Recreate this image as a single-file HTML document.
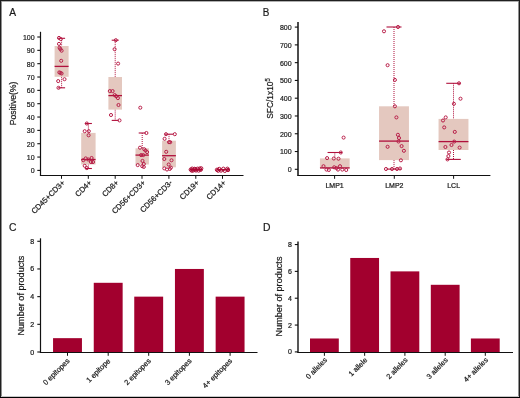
<!DOCTYPE html>
<html><head><meta charset="utf-8"><style>
html,body{margin:0;padding:0;background:#fff;}
body{width:520px;height:398px;position:relative;overflow:hidden;font-family:"Liberation Sans", sans-serif;}
.b{position:absolute;}
text{stroke:#1a1a1a;stroke-width:0.22px;}
</style></head><body>
<svg width="520" height="398" viewBox="0 0 520 398" style="position:absolute;left:0;top:0;will-change:transform" font-family='"Liberation Sans", sans-serif' fill="#1a1a1a">
<text transform="translate(9.30 15.90) scale(0.93 1)" font-size="11" text-anchor="start" >A</text>
<text transform="translate(262.70 15.90) scale(0.9 1)" font-size="11" text-anchor="start" >B</text>
<text transform="translate(9.00 231.00) scale(0.9 1)" font-size="11.5" text-anchor="start" >C</text>
<text transform="translate(263.00 231.00) scale(0.9 1)" font-size="11.5" text-anchor="start" >D</text>
<line x1="40.50" y1="31.80" x2="40.50" y2="175.50" stroke="#111" stroke-width="1.2" />
<line x1="37.30" y1="170.40" x2="40.50" y2="170.40" stroke="#111" stroke-width="1.1" />
<text transform="translate(34.60 173.25) scale(0.88 1)" font-size="8" text-anchor="end" >0</text>
<line x1="37.30" y1="157.06" x2="40.50" y2="157.06" stroke="#111" stroke-width="1.1" />
<text transform="translate(34.60 159.91) scale(0.88 1)" font-size="8" text-anchor="end" >10</text>
<line x1="37.30" y1="143.72" x2="40.50" y2="143.72" stroke="#111" stroke-width="1.1" />
<text transform="translate(34.60 146.57) scale(0.88 1)" font-size="8" text-anchor="end" >20</text>
<line x1="37.30" y1="130.38" x2="40.50" y2="130.38" stroke="#111" stroke-width="1.1" />
<text transform="translate(34.60 133.23) scale(0.88 1)" font-size="8" text-anchor="end" >30</text>
<line x1="37.30" y1="117.04" x2="40.50" y2="117.04" stroke="#111" stroke-width="1.1" />
<text transform="translate(34.60 119.89) scale(0.88 1)" font-size="8" text-anchor="end" >40</text>
<line x1="37.30" y1="103.70" x2="40.50" y2="103.70" stroke="#111" stroke-width="1.1" />
<text transform="translate(34.60 106.55) scale(0.88 1)" font-size="8" text-anchor="end" >50</text>
<line x1="37.30" y1="90.36" x2="40.50" y2="90.36" stroke="#111" stroke-width="1.1" />
<text transform="translate(34.60 93.21) scale(0.88 1)" font-size="8" text-anchor="end" >60</text>
<line x1="37.30" y1="77.02" x2="40.50" y2="77.02" stroke="#111" stroke-width="1.1" />
<text transform="translate(34.60 79.87) scale(0.88 1)" font-size="8" text-anchor="end" >70</text>
<line x1="37.30" y1="63.68" x2="40.50" y2="63.68" stroke="#111" stroke-width="1.1" />
<text transform="translate(34.60 66.53) scale(0.88 1)" font-size="8" text-anchor="end" >80</text>
<line x1="37.30" y1="50.34" x2="40.50" y2="50.34" stroke="#111" stroke-width="1.1" />
<text transform="translate(34.60 53.19) scale(0.88 1)" font-size="8" text-anchor="end" >90</text>
<line x1="37.30" y1="37.00" x2="40.50" y2="37.00" stroke="#111" stroke-width="1.1" />
<text transform="translate(34.60 39.85) scale(0.88 1)" font-size="8" text-anchor="end" >100</text>
<line x1="39.90" y1="175.50" x2="243.50" y2="175.50" stroke="#111" stroke-width="1.2" />
<line x1="61.50" y1="175.50" x2="61.50" y2="178.80" stroke="#111" stroke-width="1.0" />
<line x1="88.30" y1="175.50" x2="88.30" y2="178.80" stroke="#111" stroke-width="1.0" />
<line x1="115.20" y1="175.50" x2="115.20" y2="178.80" stroke="#111" stroke-width="1.0" />
<line x1="142.00" y1="175.50" x2="142.00" y2="178.80" stroke="#111" stroke-width="1.0" />
<line x1="168.90" y1="175.50" x2="168.90" y2="178.80" stroke="#111" stroke-width="1.0" />
<line x1="195.80" y1="175.50" x2="195.80" y2="178.80" stroke="#111" stroke-width="1.0" />
<line x1="222.50" y1="175.50" x2="222.50" y2="178.80" stroke="#111" stroke-width="1.0" />
<text transform="translate(16.30 103.40) rotate(-90) scale(0.96 1)" font-size="9" text-anchor="middle" >Positive(%)</text>
<text transform="translate(65.50 183.20) rotate(-45)" font-size="7.7" text-anchor="end" >CD45+CD3+</text>
<text transform="translate(92.30 183.20) rotate(-45)" font-size="7.7" text-anchor="end" >CD4+</text>
<text transform="translate(119.20 183.20) rotate(-45)" font-size="7.7" text-anchor="end" >CD8+</text>
<text transform="translate(146.00 183.20) rotate(-45)" font-size="7.7" text-anchor="end" >CD56+CD3+</text>
<text transform="translate(172.90 183.20) rotate(-45)" font-size="7.7" text-anchor="end" >CD56+CD3-</text>
<text transform="translate(199.80 183.20) rotate(-45)" font-size="7.7" text-anchor="end" >CD19+</text>
<text transform="translate(226.50 183.20) rotate(-45)" font-size="7.7" text-anchor="end" >CD14+</text>
<line x1="61.60" y1="38.30" x2="61.60" y2="46.00" stroke="#B0103C" stroke-width="1.0" stroke-dasharray="1 1"/>
<line x1="58.10" y1="38.30" x2="65.10" y2="38.30" stroke="#B0103C" stroke-width="1.1" />
<line x1="61.60" y1="76.80" x2="61.60" y2="87.80" stroke="#B0103C" stroke-width="1.0" stroke-dasharray="1 1"/>
<line x1="58.10" y1="87.80" x2="65.10" y2="87.80" stroke="#B0103C" stroke-width="1.1" />
<rect x="54.60" y="46.00" width="14.00" height="30.80" fill="#E4C8BF"/>
<line x1="54.60" y1="66.40" x2="68.60" y2="66.40" stroke="#B0103C" stroke-width="1.3" />
<circle cx="59.00" cy="37.90" r="1.55" fill="none" stroke="#B81E48" stroke-width="1.0"/>
<circle cx="60.80" cy="39.10" r="1.55" fill="none" stroke="#B81E48" stroke-width="1.0"/>
<circle cx="59.00" cy="43.90" r="1.55" fill="none" stroke="#B81E48" stroke-width="1.0"/>
<circle cx="59.60" cy="47.80" r="1.55" fill="none" stroke="#B81E48" stroke-width="1.0"/>
<circle cx="60.40" cy="49.10" r="1.55" fill="none" stroke="#B81E48" stroke-width="1.0"/>
<circle cx="61.60" cy="50.70" r="1.55" fill="none" stroke="#B81E48" stroke-width="1.0"/>
<circle cx="61.20" cy="60.80" r="1.55" fill="none" stroke="#B81E48" stroke-width="1.0"/>
<circle cx="59.30" cy="72.40" r="1.55" fill="none" stroke="#B81E48" stroke-width="1.0"/>
<circle cx="60.50" cy="72.90" r="1.55" fill="none" stroke="#B81E48" stroke-width="1.0"/>
<circle cx="61.60" cy="73.50" r="1.55" fill="none" stroke="#B81E48" stroke-width="1.0"/>
<circle cx="64.50" cy="79.20" r="1.55" fill="none" stroke="#B81E48" stroke-width="1.0"/>
<circle cx="58.20" cy="81.10" r="1.55" fill="none" stroke="#B81E48" stroke-width="1.0"/>
<circle cx="58.50" cy="87.80" r="1.55" fill="none" stroke="#B81E48" stroke-width="1.0"/>
<line x1="88.40" y1="123.50" x2="88.40" y2="132.90" stroke="#B0103C" stroke-width="1.0" stroke-dasharray="1 1"/>
<line x1="84.90" y1="123.50" x2="91.90" y2="123.50" stroke="#B0103C" stroke-width="1.1" />
<line x1="88.40" y1="164.50" x2="88.40" y2="168.50" stroke="#B0103C" stroke-width="1.0" stroke-dasharray="1 1"/>
<line x1="84.90" y1="168.50" x2="91.90" y2="168.50" stroke="#B0103C" stroke-width="1.1" />
<rect x="81.20" y="132.90" width="14.40" height="31.60" fill="#E4C8BF"/>
<line x1="81.20" y1="159.50" x2="95.60" y2="159.50" stroke="#B0103C" stroke-width="1.3" />
<circle cx="86.80" cy="123.50" r="1.55" fill="none" stroke="#B81E48" stroke-width="1.0"/>
<circle cx="84.70" cy="131.20" r="1.55" fill="none" stroke="#B81E48" stroke-width="1.0"/>
<circle cx="88.80" cy="131.20" r="1.55" fill="none" stroke="#B81E48" stroke-width="1.0"/>
<circle cx="88.60" cy="135.30" r="1.55" fill="none" stroke="#B81E48" stroke-width="1.0"/>
<circle cx="83.30" cy="160.20" r="1.55" fill="none" stroke="#B81E48" stroke-width="1.0"/>
<circle cx="85.70" cy="158.40" r="1.55" fill="none" stroke="#B81E48" stroke-width="1.0"/>
<circle cx="91.60" cy="158.00" r="1.55" fill="none" stroke="#B81E48" stroke-width="1.0"/>
<circle cx="93.00" cy="162.00" r="1.55" fill="none" stroke="#B81E48" stroke-width="1.0"/>
<circle cx="91.00" cy="162.00" r="1.55" fill="none" stroke="#B81E48" stroke-width="1.0"/>
<circle cx="88.20" cy="159.50" r="1.55" fill="none" stroke="#B81E48" stroke-width="1.0"/>
<circle cx="84.70" cy="165.80" r="1.55" fill="none" stroke="#B81E48" stroke-width="1.0"/>
<circle cx="86.80" cy="168.10" r="1.55" fill="none" stroke="#B81E48" stroke-width="1.0"/>
<line x1="115.20" y1="40.20" x2="115.20" y2="77.00" stroke="#B0103C" stroke-width="1.0" stroke-dasharray="1 1"/>
<line x1="111.70" y1="40.20" x2="118.70" y2="40.20" stroke="#B0103C" stroke-width="1.1" />
<line x1="115.20" y1="109.60" x2="115.20" y2="120.40" stroke="#B0103C" stroke-width="1.0" stroke-dasharray="1 1"/>
<line x1="111.70" y1="120.40" x2="118.70" y2="120.40" stroke="#B0103C" stroke-width="1.1" />
<rect x="108.40" y="77.00" width="13.60" height="32.60" fill="#E4C8BF"/>
<line x1="108.40" y1="95.60" x2="122.00" y2="95.60" stroke="#B0103C" stroke-width="1.3" />
<circle cx="115.80" cy="40.20" r="1.55" fill="none" stroke="#B81E48" stroke-width="1.0"/>
<circle cx="114.60" cy="49.20" r="1.55" fill="none" stroke="#B81E48" stroke-width="1.0"/>
<circle cx="118.10" cy="63.60" r="1.55" fill="none" stroke="#B81E48" stroke-width="1.0"/>
<circle cx="109.80" cy="91.10" r="1.55" fill="none" stroke="#B81E48" stroke-width="1.0"/>
<circle cx="112.60" cy="91.10" r="1.55" fill="none" stroke="#B81E48" stroke-width="1.0"/>
<circle cx="114.70" cy="95.10" r="1.55" fill="none" stroke="#B81E48" stroke-width="1.0"/>
<circle cx="116.20" cy="96.30" r="1.55" fill="none" stroke="#B81E48" stroke-width="1.0"/>
<circle cx="117.90" cy="98.10" r="1.55" fill="none" stroke="#B81E48" stroke-width="1.0"/>
<circle cx="118.50" cy="105.00" r="1.55" fill="none" stroke="#B81E48" stroke-width="1.0"/>
<circle cx="111.00" cy="115.00" r="1.55" fill="none" stroke="#B81E48" stroke-width="1.0"/>
<circle cx="119.50" cy="120.40" r="1.55" fill="none" stroke="#B81E48" stroke-width="1.0"/>
<line x1="142.20" y1="133.00" x2="142.20" y2="148.30" stroke="#B0103C" stroke-width="1.0" stroke-dasharray="1 1"/>
<line x1="138.70" y1="133.00" x2="145.70" y2="133.00" stroke="#B0103C" stroke-width="1.1" />
<rect x="135.50" y="148.30" width="13.40" height="16.20" fill="#E4C8BF"/>
<line x1="135.50" y1="155.10" x2="148.90" y2="155.10" stroke="#B0103C" stroke-width="1.3" />
<circle cx="140.30" cy="107.70" r="1.55" fill="none" stroke="#B81E48" stroke-width="1.0"/>
<circle cx="146.40" cy="133.00" r="1.55" fill="none" stroke="#B81E48" stroke-width="1.0"/>
<circle cx="140.00" cy="147.70" r="1.55" fill="none" stroke="#B81E48" stroke-width="1.0"/>
<circle cx="144.20" cy="149.20" r="1.55" fill="none" stroke="#B81E48" stroke-width="1.0"/>
<circle cx="145.50" cy="150.50" r="1.55" fill="none" stroke="#B81E48" stroke-width="1.0"/>
<circle cx="147.10" cy="152.10" r="1.55" fill="none" stroke="#B81E48" stroke-width="1.0"/>
<circle cx="141.10" cy="155.10" r="1.55" fill="none" stroke="#B81E48" stroke-width="1.0"/>
<circle cx="143.30" cy="155.10" r="1.55" fill="none" stroke="#B81E48" stroke-width="1.0"/>
<circle cx="142.50" cy="160.90" r="1.55" fill="none" stroke="#B81E48" stroke-width="1.0"/>
<circle cx="143.80" cy="164.00" r="1.55" fill="none" stroke="#B81E48" stroke-width="1.0"/>
<circle cx="137.70" cy="165.10" r="1.55" fill="none" stroke="#B81E48" stroke-width="1.0"/>
<circle cx="142.20" cy="166.20" r="1.55" fill="none" stroke="#B81E48" stroke-width="1.0"/>
<circle cx="143.80" cy="166.90" r="1.55" fill="none" stroke="#B81E48" stroke-width="1.0"/>
<line x1="169.00" y1="134.20" x2="169.00" y2="140.70" stroke="#B0103C" stroke-width="1.0" stroke-dasharray="1 1"/>
<line x1="165.00" y1="134.20" x2="173.00" y2="134.20" stroke="#B0103C" stroke-width="1.1" />
<rect x="162.10" y="140.70" width="13.80" height="26.60" fill="#E4C8BF"/>
<line x1="162.10" y1="155.70" x2="175.90" y2="155.70" stroke="#B0103C" stroke-width="1.3" />
<circle cx="166.00" cy="134.20" r="1.55" fill="none" stroke="#B81E48" stroke-width="1.0"/>
<circle cx="174.80" cy="134.20" r="1.55" fill="none" stroke="#B81E48" stroke-width="1.0"/>
<circle cx="164.60" cy="138.80" r="1.55" fill="none" stroke="#B81E48" stroke-width="1.0"/>
<circle cx="169.00" cy="142.20" r="1.55" fill="none" stroke="#B81E48" stroke-width="1.0"/>
<circle cx="170.20" cy="142.20" r="1.55" fill="none" stroke="#B81E48" stroke-width="1.0"/>
<circle cx="166.20" cy="151.80" r="1.55" fill="none" stroke="#B81E48" stroke-width="1.0"/>
<circle cx="164.30" cy="159.00" r="1.55" fill="none" stroke="#B81E48" stroke-width="1.0"/>
<circle cx="171.50" cy="160.30" r="1.55" fill="none" stroke="#B81E48" stroke-width="1.0"/>
<circle cx="168.70" cy="164.50" r="1.55" fill="none" stroke="#B81E48" stroke-width="1.0"/>
<circle cx="164.30" cy="168.40" r="1.55" fill="none" stroke="#B81E48" stroke-width="1.0"/>
<circle cx="167.00" cy="169.50" r="1.55" fill="none" stroke="#B81E48" stroke-width="1.0"/>
<circle cx="169.80" cy="168.90" r="1.55" fill="none" stroke="#B81E48" stroke-width="1.0"/>
<circle cx="170.90" cy="167.60" r="1.55" fill="none" stroke="#B81E48" stroke-width="1.0"/>
<line x1="189.60" y1="169.70" x2="202.20" y2="169.70" stroke="#A8002E" stroke-width="1.4" />
<circle cx="190.80" cy="169.60" r="1.7" fill="none" stroke="#AC0834" stroke-width="0.95"/>
<circle cx="192.20" cy="168.70" r="1.7" fill="none" stroke="#AC0834" stroke-width="0.95"/>
<circle cx="193.20" cy="170.40" r="1.7" fill="none" stroke="#AC0834" stroke-width="0.95"/>
<circle cx="194.60" cy="168.90" r="1.7" fill="none" stroke="#AC0834" stroke-width="0.95"/>
<circle cx="196.00" cy="170.40" r="1.7" fill="none" stroke="#AC0834" stroke-width="0.95"/>
<circle cx="197.40" cy="168.80" r="1.7" fill="none" stroke="#AC0834" stroke-width="0.95"/>
<circle cx="198.60" cy="170.50" r="1.7" fill="none" stroke="#AC0834" stroke-width="0.95"/>
<circle cx="199.60" cy="168.60" r="1.7" fill="none" stroke="#AC0834" stroke-width="0.95"/>
<circle cx="200.60" cy="169.80" r="1.7" fill="none" stroke="#AC0834" stroke-width="0.95"/>
<circle cx="201.20" cy="168.40" r="1.7" fill="none" stroke="#AC0834" stroke-width="0.95"/>
<circle cx="195.20" cy="169.40" r="1.7" fill="none" stroke="#AC0834" stroke-width="0.95"/>
<circle cx="191.80" cy="170.60" r="1.7" fill="none" stroke="#AC0834" stroke-width="0.95"/>
<line x1="216.40" y1="169.80" x2="229.20" y2="169.80" stroke="#A8002E" stroke-width="1.4" />
<circle cx="217.00" cy="169.80" r="1.7" fill="none" stroke="#AC0834" stroke-width="0.95"/>
<circle cx="219.30" cy="169.00" r="1.7" fill="none" stroke="#AC0834" stroke-width="0.95"/>
<circle cx="221.00" cy="170.50" r="1.7" fill="none" stroke="#AC0834" stroke-width="0.95"/>
<circle cx="223.40" cy="168.80" r="1.7" fill="none" stroke="#AC0834" stroke-width="0.95"/>
<circle cx="224.80" cy="170.80" r="1.7" fill="none" stroke="#AC0834" stroke-width="0.95"/>
<circle cx="227.40" cy="168.80" r="1.7" fill="none" stroke="#AC0834" stroke-width="0.95"/>
<circle cx="228.00" cy="170.00" r="1.7" fill="none" stroke="#AC0834" stroke-width="0.95"/>
<circle cx="218.20" cy="170.60" r="1.7" fill="none" stroke="#AC0834" stroke-width="0.95"/>
<line x1="298.00" y1="22.00" x2="298.00" y2="175.50" stroke="#111" stroke-width="1.5" />
<line x1="294.80" y1="169.30" x2="298.00" y2="169.30" stroke="#111" stroke-width="1.1" />
<text transform="translate(291.60 172.15) scale(0.88 1)" font-size="8" text-anchor="end" >0</text>
<line x1="294.80" y1="151.53" x2="298.00" y2="151.53" stroke="#111" stroke-width="1.1" />
<text transform="translate(291.60 154.38) scale(0.88 1)" font-size="8" text-anchor="end" >100</text>
<line x1="294.80" y1="133.75" x2="298.00" y2="133.75" stroke="#111" stroke-width="1.1" />
<text transform="translate(291.60 136.60) scale(0.88 1)" font-size="8" text-anchor="end" >200</text>
<line x1="294.80" y1="115.98" x2="298.00" y2="115.98" stroke="#111" stroke-width="1.1" />
<text transform="translate(291.60 118.83) scale(0.88 1)" font-size="8" text-anchor="end" >300</text>
<line x1="294.80" y1="98.20" x2="298.00" y2="98.20" stroke="#111" stroke-width="1.1" />
<text transform="translate(291.60 101.05) scale(0.88 1)" font-size="8" text-anchor="end" >400</text>
<line x1="294.80" y1="80.43" x2="298.00" y2="80.43" stroke="#111" stroke-width="1.1" />
<text transform="translate(291.60 83.28) scale(0.88 1)" font-size="8" text-anchor="end" >500</text>
<line x1="294.80" y1="62.65" x2="298.00" y2="62.65" stroke="#111" stroke-width="1.1" />
<text transform="translate(291.60 65.50) scale(0.88 1)" font-size="8" text-anchor="end" >600</text>
<line x1="294.80" y1="44.88" x2="298.00" y2="44.88" stroke="#111" stroke-width="1.1" />
<text transform="translate(291.60 47.73) scale(0.88 1)" font-size="8" text-anchor="end" >700</text>
<line x1="294.80" y1="27.10" x2="298.00" y2="27.10" stroke="#111" stroke-width="1.1" />
<text transform="translate(291.60 29.95) scale(0.88 1)" font-size="8" text-anchor="end" >800</text>
<line x1="297.25" y1="175.50" x2="490.40" y2="175.50" stroke="#111" stroke-width="1.2" />
<line x1="334.60" y1="175.50" x2="334.60" y2="178.80" stroke="#111" stroke-width="1.0" />
<line x1="394.30" y1="175.50" x2="394.30" y2="178.80" stroke="#111" stroke-width="1.0" />
<line x1="453.60" y1="175.50" x2="453.60" y2="178.80" stroke="#111" stroke-width="1.0" />
<text transform="translate(334.60 188.20)" font-size="7" text-anchor="middle" >LMP1</text>
<text transform="translate(394.30 188.20)" font-size="7" text-anchor="middle" >LMP2</text>
<text transform="translate(453.60 188.20)" font-size="7" text-anchor="middle" >LCL</text>
<text transform="translate(273.3 98.5) rotate(-90) scale(0.93 1)" font-size="9" text-anchor="middle">SFC/1x10<tspan font-size="6.3" dy="-3.5">5</tspan></text>
<line x1="334.80" y1="152.50" x2="334.80" y2="158.40" stroke="#B0103C" stroke-width="1.0" stroke-dasharray="1 1"/>
<line x1="327.55" y1="152.50" x2="342.05" y2="152.50" stroke="#B0103C" stroke-width="1.1" />
<rect x="319.95" y="158.40" width="29.70" height="10.00" fill="#E4C8BF"/>
<line x1="319.95" y1="167.90" x2="349.65" y2="167.90" stroke="#B0103C" stroke-width="1.3" />
<circle cx="340.80" cy="152.50" r="1.55" fill="none" stroke="#B81E48" stroke-width="1.0"/>
<circle cx="327.10" cy="158.10" r="1.55" fill="none" stroke="#B81E48" stroke-width="1.0"/>
<circle cx="333.80" cy="158.50" r="1.55" fill="none" stroke="#B81E48" stroke-width="1.0"/>
<circle cx="338.50" cy="158.70" r="1.55" fill="none" stroke="#B81E48" stroke-width="1.0"/>
<circle cx="323.50" cy="166.20" r="1.55" fill="none" stroke="#B81E48" stroke-width="1.0"/>
<circle cx="326.50" cy="169.60" r="1.55" fill="none" stroke="#B81E48" stroke-width="1.0"/>
<circle cx="328.80" cy="170.00" r="1.55" fill="none" stroke="#B81E48" stroke-width="1.0"/>
<circle cx="334.20" cy="167.30" r="1.55" fill="none" stroke="#B81E48" stroke-width="1.0"/>
<circle cx="336.50" cy="168.10" r="1.55" fill="none" stroke="#B81E48" stroke-width="1.0"/>
<circle cx="338.00" cy="169.60" r="1.55" fill="none" stroke="#B81E48" stroke-width="1.0"/>
<circle cx="340.00" cy="166.20" r="1.55" fill="none" stroke="#B81E48" stroke-width="1.0"/>
<circle cx="342.30" cy="169.60" r="1.55" fill="none" stroke="#B81E48" stroke-width="1.0"/>
<circle cx="346.20" cy="170.00" r="1.55" fill="none" stroke="#B81E48" stroke-width="1.0"/>
<circle cx="343.60" cy="137.60" r="1.55" fill="none" stroke="#B81E48" stroke-width="1.0"/>
<line x1="394.00" y1="27.00" x2="394.00" y2="106.30" stroke="#B0103C" stroke-width="1.0" stroke-dasharray="1 1"/>
<line x1="386.50" y1="27.00" x2="401.50" y2="27.00" stroke="#B0103C" stroke-width="1.1" />
<line x1="394.00" y1="160.10" x2="394.00" y2="169.10" stroke="#B0103C" stroke-width="1.0" stroke-dasharray="1 1"/>
<line x1="386.50" y1="169.10" x2="401.50" y2="169.10" stroke="#B0103C" stroke-width="1.1" />
<rect x="379.05" y="106.30" width="29.90" height="53.80" fill="#E4C8BF"/>
<line x1="379.05" y1="141.10" x2="408.95" y2="141.10" stroke="#B0103C" stroke-width="1.3" />
<circle cx="398.00" cy="27.00" r="1.55" fill="none" stroke="#B81E48" stroke-width="1.0"/>
<circle cx="384.00" cy="31.30" r="1.55" fill="none" stroke="#B81E48" stroke-width="1.0"/>
<circle cx="387.60" cy="65.20" r="1.55" fill="none" stroke="#B81E48" stroke-width="1.0"/>
<circle cx="394.90" cy="79.90" r="1.55" fill="none" stroke="#B81E48" stroke-width="1.0"/>
<circle cx="394.90" cy="106.30" r="1.55" fill="none" stroke="#B81E48" stroke-width="1.0"/>
<circle cx="396.40" cy="117.40" r="1.55" fill="none" stroke="#B81E48" stroke-width="1.0"/>
<circle cx="397.90" cy="134.80" r="1.55" fill="none" stroke="#B81E48" stroke-width="1.0"/>
<circle cx="399.00" cy="138.00" r="1.55" fill="none" stroke="#B81E48" stroke-width="1.0"/>
<circle cx="398.50" cy="141.50" r="1.55" fill="none" stroke="#B81E48" stroke-width="1.0"/>
<circle cx="387.60" cy="146.80" r="1.55" fill="none" stroke="#B81E48" stroke-width="1.0"/>
<circle cx="401.60" cy="146.10" r="1.55" fill="none" stroke="#B81E48" stroke-width="1.0"/>
<circle cx="403.90" cy="150.80" r="1.55" fill="none" stroke="#B81E48" stroke-width="1.0"/>
<circle cx="400.90" cy="160.30" r="1.55" fill="none" stroke="#B81E48" stroke-width="1.0"/>
<circle cx="386.00" cy="169.00" r="1.55" fill="none" stroke="#B81E48" stroke-width="1.0"/>
<circle cx="392.00" cy="169.00" r="1.55" fill="none" stroke="#B81E48" stroke-width="1.0"/>
<circle cx="397.00" cy="169.00" r="1.55" fill="none" stroke="#B81E48" stroke-width="1.0"/>
<circle cx="400.00" cy="168.50" r="1.55" fill="none" stroke="#B81E48" stroke-width="1.0"/>
<line x1="453.50" y1="83.30" x2="453.50" y2="118.90" stroke="#B0103C" stroke-width="1.0" stroke-dasharray="1 1"/>
<line x1="446.25" y1="83.30" x2="460.75" y2="83.30" stroke="#B0103C" stroke-width="1.1" />
<line x1="453.50" y1="150.00" x2="453.50" y2="159.40" stroke="#B0103C" stroke-width="1.0" stroke-dasharray="1 1"/>
<line x1="446.25" y1="159.40" x2="460.75" y2="159.40" stroke="#B0103C" stroke-width="1.1" />
<rect x="438.55" y="118.90" width="29.90" height="31.10" fill="#E4C8BF"/>
<line x1="438.55" y1="141.60" x2="468.45" y2="141.60" stroke="#B0103C" stroke-width="1.3" />
<circle cx="459.00" cy="83.30" r="1.55" fill="none" stroke="#B81E48" stroke-width="1.0"/>
<circle cx="453.90" cy="103.80" r="1.55" fill="none" stroke="#B81E48" stroke-width="1.0"/>
<circle cx="460.50" cy="98.70" r="1.55" fill="none" stroke="#B81E48" stroke-width="1.0"/>
<circle cx="445.70" cy="117.40" r="1.55" fill="none" stroke="#B81E48" stroke-width="1.0"/>
<circle cx="443.00" cy="120.50" r="1.55" fill="none" stroke="#B81E48" stroke-width="1.0"/>
<circle cx="444.20" cy="127.40" r="1.55" fill="none" stroke="#B81E48" stroke-width="1.0"/>
<circle cx="454.80" cy="131.90" r="1.55" fill="none" stroke="#B81E48" stroke-width="1.0"/>
<circle cx="454.20" cy="141.60" r="1.55" fill="none" stroke="#B81E48" stroke-width="1.0"/>
<circle cx="451.50" cy="145.00" r="1.55" fill="none" stroke="#B81E48" stroke-width="1.0"/>
<circle cx="445.40" cy="147.00" r="1.55" fill="none" stroke="#B81E48" stroke-width="1.0"/>
<circle cx="459.60" cy="147.60" r="1.55" fill="none" stroke="#B81E48" stroke-width="1.0"/>
<circle cx="449.00" cy="152.50" r="1.55" fill="none" stroke="#B81E48" stroke-width="1.0"/>
<circle cx="448.40" cy="156.10" r="1.55" fill="none" stroke="#B81E48" stroke-width="1.0"/>
<circle cx="447.50" cy="159.40" r="1.55" fill="none" stroke="#B81E48" stroke-width="1.0"/>
<line x1="40.50" y1="238.30" x2="40.50" y2="352.50" stroke="#111" stroke-width="1.2" />
<line x1="37.30" y1="352.00" x2="40.50" y2="352.00" stroke="#111" stroke-width="1.1" />
<text transform="translate(34.10 354.50)" font-size="7" text-anchor="end" >0</text>
<line x1="37.30" y1="324.32" x2="40.50" y2="324.32" stroke="#111" stroke-width="1.1" />
<text transform="translate(34.10 326.82)" font-size="7" text-anchor="end" >2</text>
<line x1="37.30" y1="296.64" x2="40.50" y2="296.64" stroke="#111" stroke-width="1.1" />
<text transform="translate(34.10 299.14)" font-size="7" text-anchor="end" >4</text>
<line x1="37.30" y1="268.96" x2="40.50" y2="268.96" stroke="#111" stroke-width="1.1" />
<text transform="translate(34.10 271.46)" font-size="7" text-anchor="end" >6</text>
<line x1="37.30" y1="241.28" x2="40.50" y2="241.28" stroke="#111" stroke-width="1.1" />
<text transform="translate(34.10 243.78)" font-size="7" text-anchor="end" >8</text>
<text transform="translate(24.20 295.60) rotate(-90)" font-size="9.1" text-anchor="middle" >Number of products</text>
<rect x="53.05" y="338.16" width="28.9" height="13.84" fill="#A2002E"/>
<rect x="93.75" y="282.80" width="28.9" height="69.20" fill="#A2002E"/>
<rect x="134.25" y="296.64" width="28.9" height="55.36" fill="#A2002E"/>
<rect x="174.95" y="268.96" width="28.9" height="83.04" fill="#A2002E"/>
<rect x="215.65" y="296.64" width="28.9" height="55.36" fill="#A2002E"/>
<line x1="39.90" y1="352.50" x2="257.50" y2="352.50" stroke="#111" stroke-width="1.0" />
<line x1="67.50" y1="352.50" x2="67.50" y2="355.80" stroke="#111" stroke-width="1.0" />
<line x1="108.20" y1="352.50" x2="108.20" y2="355.80" stroke="#111" stroke-width="1.0" />
<line x1="148.70" y1="352.50" x2="148.70" y2="355.80" stroke="#111" stroke-width="1.0" />
<line x1="189.40" y1="352.50" x2="189.40" y2="355.80" stroke="#111" stroke-width="1.0" />
<line x1="230.10" y1="352.50" x2="230.10" y2="355.80" stroke="#111" stroke-width="1.0" />
<text transform="translate(70.10 361.50) rotate(-45)" font-size="7.4" text-anchor="end" >0 epitopes</text>
<text transform="translate(110.80 361.50) rotate(-45)" font-size="7.4" text-anchor="end" >1 epitope</text>
<text transform="translate(151.30 361.50) rotate(-45)" font-size="7.4" text-anchor="end" >2 epitopes</text>
<text transform="translate(192.00 361.50) rotate(-45)" font-size="7.4" text-anchor="end" >3 epitopes</text>
<text transform="translate(232.70 361.50) rotate(-45)" font-size="7.4" text-anchor="end" >4+ epitopes</text>
<line x1="298.00" y1="241.50" x2="298.00" y2="352.50" stroke="#111" stroke-width="1.4" />
<line x1="294.80" y1="351.90" x2="298.00" y2="351.90" stroke="#111" stroke-width="1.1" />
<text transform="translate(292.00 354.40)" font-size="7" text-anchor="end" >0</text>
<line x1="294.80" y1="325.06" x2="298.00" y2="325.06" stroke="#111" stroke-width="1.1" />
<text transform="translate(292.00 327.56)" font-size="7" text-anchor="end" >2</text>
<line x1="294.80" y1="298.22" x2="298.00" y2="298.22" stroke="#111" stroke-width="1.1" />
<text transform="translate(292.00 300.72)" font-size="7" text-anchor="end" >4</text>
<line x1="294.80" y1="271.38" x2="298.00" y2="271.38" stroke="#111" stroke-width="1.1" />
<text transform="translate(292.00 273.88)" font-size="7" text-anchor="end" >6</text>
<line x1="294.80" y1="244.54" x2="298.00" y2="244.54" stroke="#111" stroke-width="1.1" />
<text transform="translate(292.00 247.04)" font-size="7" text-anchor="end" >8</text>
<text transform="translate(281.70 296.50) rotate(-90)" font-size="9.1" text-anchor="middle" >Number of products</text>
<rect x="310.00" y="338.48" width="28.8" height="13.52" fill="#A2002E"/>
<rect x="350.25" y="257.96" width="28.8" height="94.04" fill="#A2002E"/>
<rect x="390.50" y="271.38" width="28.8" height="80.62" fill="#A2002E"/>
<rect x="430.80" y="284.80" width="28.8" height="67.20" fill="#A2002E"/>
<rect x="470.90" y="338.48" width="28.8" height="13.52" fill="#A2002E"/>
<line x1="297.30" y1="352.50" x2="513.00" y2="352.50" stroke="#111" stroke-width="1.0" />
<line x1="324.40" y1="352.50" x2="324.40" y2="355.80" stroke="#111" stroke-width="1.0" />
<line x1="364.65" y1="352.50" x2="364.65" y2="355.80" stroke="#111" stroke-width="1.0" />
<line x1="404.90" y1="352.50" x2="404.90" y2="355.80" stroke="#111" stroke-width="1.0" />
<line x1="445.20" y1="352.50" x2="445.20" y2="355.80" stroke="#111" stroke-width="1.0" />
<line x1="485.30" y1="352.50" x2="485.30" y2="355.80" stroke="#111" stroke-width="1.0" />
<text transform="translate(327.60 360.50) rotate(-45)" font-size="7.3" text-anchor="end" >0 alleles</text>
<text transform="translate(367.85 360.50) rotate(-45)" font-size="7.3" text-anchor="end" >1 allele</text>
<text transform="translate(408.10 360.50) rotate(-45)" font-size="7.3" text-anchor="end" >2 alleles</text>
<text transform="translate(448.40 360.50) rotate(-45)" font-size="7.3" text-anchor="end" >3 alleles</text>
<text transform="translate(488.50 360.50) rotate(-45)" font-size="7.3" text-anchor="end" >4+ alleles</text>
</svg>
<div class="b" style="left:0;top:0;width:520px;height:1px;background:#1f1f1f"></div>
<div class="b" style="left:1px;top:1px;width:518px;height:1px;background:#b0b0b0"></div>
<div class="b" style="left:0;top:0;width:1px;height:398px;background:#1f1f1f"></div>
<div class="b" style="left:1px;top:1px;width:1px;height:396px;background:#909090"></div>
<div class="b" style="left:519px;top:0;width:1px;height:398px;background:#1f1f1f"></div>
<div class="b" style="left:518px;top:1px;width:1px;height:396px;background:#909090"></div>
<div class="b" style="left:0;top:397px;width:520px;height:1px;background:#000"></div>
<div class="b" style="left:1px;top:396px;width:518px;height:1px;background:#c8c8c8"></div>
</body></html>
